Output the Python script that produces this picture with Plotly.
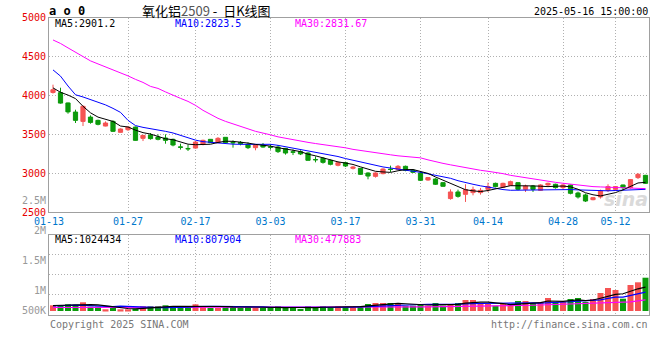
import plotly.graph_objects as go

# ---------------- data ----------------
dates = ["01-13","01-14","01-15","01-16","01-17","01-20","01-21","01-22","01-23","01-24","01-27",
         "02-05","02-06","02-07","02-10","02-11","02-12","02-13","02-14","02-17","02-18","02-19","02-20","02-21",
         "02-24","02-25","02-26","02-27","02-28",
         "03-03","03-04","03-05","03-06","03-07","03-10","03-11","03-12","03-13","03-14","03-17","03-18","03-19",
         "03-20","03-21","03-24","03-25","03-26","03-27","03-28","03-31",
         "04-01","04-02","04-03","04-07","04-08","04-09","04-10","04-11","04-14","04-15","04-16","04-17","04-18",
         "04-21","04-22","04-23","04-24","04-25","04-28","04-29","04-30",
         "05-06","05-07","05-08","05-09","05-12","05-13","05-14","05-15","05-16"]

tick_labels = ["01-27","02-17","03-03","03-17","03-31","04-14","04-28","05-12"]
first_label = "01-13"

open_ = [4040,4037,3905,3788,3668,3723,3681,3608,3668,3527,3561,3595,3450,3492,3466,3454,3437,3340,3320,3325,
         3373,3437,3394,3463,3397,3398,3373,3330,3364,3340,3338,3321,3276,3279,3261,3178,3193,3167,3103,3137,
         3064,3064,3004,2961,2996,3053,3051,3090,3039,3004,2914,2927,2880,2675,2760,2730,2752,2752,2794,2871,
         2820,2846,2880,2794,2837,2781,2850,2859,2816,2850,2747,2722,2661,2696,2781,2794,2850,2816,2945,2974]
high = [4140,4101,3910,3818,3874,3745,3690,3668,3681,3578,3600,3600,3490,3518,3501,3501,3446,3381,3369,3415,
        3433,3440,3466,3466,3424,3415,3398,3373,3390,3373,3364,3321,3308,3296,3270,3218,3209,3176,3150,3150,
        3095,3068,3013,3013,3064,3099,3107,3099,3055,3017,2950,2936,2884,2794,2790,2859,2829,2812,2880,2880,
        2880,2906,2884,2854,2850,2859,2880,2867,2859,2854,2764,2739,2696,2790,2859,2837,2854,2927,3004,2980]
low = [4025,3896,3767,3647,3608,3638,3617,3604,3531,3522,3545,3420,3415,3433,3424,3381,3347,3305,3287,3317,
       3360,3390,3390,3390,3330,3360,3312,3296,3330,3305,3261,3240,3235,3235,3167,3141,3124,3103,3090,3081,
       3050,2980,2923,2945,2987,3017,3047,3026,3004,2901,2905,2850,2829,2661,2687,2632,2717,2726,2760,2820,
       2810,2837,2781,2760,2760,2773,2829,2803,2790,2730,2675,2632,2653,2675,2760,2773,2781,2803,2927,2865]
close = [4075,3903,3790,3681,3861,3655,3630,3647,3540,3570,3595,3424,3488,3446,3437,3424,3364,3335,3315,3402,
         3424,3394,3450,3394,3392,3381,3330,3364,3338,3336,3279,3261,3272,3249,3167,3174,3141,3116,3137,3094,
         3080,2987,2965,3004,3055,3049,3090,3039,3013,2910,2945,2859,2833,2760,2704,2790,2790,2781,2829,2829,
         2871,2893,2794,2837,2794,2850,2871,2816,2850,2743,2696,2644,2687,2773,2829,2829,2816,2919,2987,2871]

ma5 = [4099,4042,4006,3961,3862,3778,3723,3695,3667,3608,3596,3555,3523,3505,3478,3444,3432,3401,3375,3368,
       3368,3374,3397,3413,3411,3402,3389,3372,3361,3350,3329,3316,3297,3279,3246,3225,3201,3169,3147,3132,
       3114,3083,3053,3026,3018,3012,3033,3047,3049,3020,2999,2953,2912,2861,2820,2789,2775,2765,2779,2804,
       2820,2841,2843,2845,2838,2834,2829,2834,2836,2826,2795,2750,2724,2709,2726,2752,2787,2833,2876,2884]
ma10 = [4330,4250,4123,4010,3982,3951,3916,3880,3835,3784,3681,3614,3591,3576,3562,3540,3519,3486,3455,3427,
        3407,3398,3392,3383,3375,3373,3373,3373,3373,3373,3360,3342,3321,3303,3285,3269,3252,3238,3216,3190,
        3167,3144,3121,3100,3082,3068,3055,3044,3032,3013,2994,2974,2955,2936,2905,2877,2859,2839,2820,2805,
        2791,2782,2784,2787,2789,2792,2794,2793,2792,2791,2787,2782,2778,2774,2775,2779,2783,2787,2792,2794]
ma30 = [4715,4670,4613,4561,4503,4446,4407,4371,4330,4298,4253,4208,4169,4118,4092,4047,4002,3964,3925,3874,
        3810,3758,3707,3668,3639,3610,3572,3540,3520,3495,3469,3450,3427,3414,3398,3383,3370,3360,3347,3328,
        3308,3292,3279,3263,3253,3238,3225,3215,3206,3199,3173,3148,3128,3109,3090,3068,3051,3039,3026,3013,
        2996,2974,2958,2942,2927,2913,2900,2884,2872,2859,2846,2833,2829,2825,2820,2816,2814,2810,2807,2803]

volume = [245000,245000,288000,271000,374000,185000,185000,73000,129000,73000,
          73000,99000,202000,202000,202000,245000,159000,202000,202000,288000,
          215000,129000,129000,202000,202000,129000,202000,129000,129000,129000,
          202000,129000,159000,86000,202000,159000,202000,159000,202000,185000,
          185000,215000,301000,344000,344000,344000,301000,228000,228000,301000,
          228000,344000,228000,301000,344000,473000,473000,301000,301000,228000,
          301000,228000,430000,430000,344000,387000,559000,387000,387000,516000,
          559000,387000,516000,774000,989000,903000,529000,1118000,1234000,1432000]
vma5 = [236000,250000,255000,250000,285000,273000,261000,218000,189000,129000,
        107000,89000,115000,130000,156000,190000,202000,202000,202000,219000,
        213000,207000,193000,193000,175000,158000,173000,173000,158000,144000,
        158000,144000,150000,141000,156000,147000,162000,162000,185000,181000,
        187000,189000,218000,246000,278000,310000,327000,312000,289000,280000,
        257000,266000,266000,280000,289000,338000,364000,378000,378000,355000,
        321000,272000,298000,323000,347000,364000,430000,421000,413000,447000,
        482000,447000,473000,550000,645000,714000,742000,863000,955000,1024434]
vma10 = [215000,230000,250000,255000,240000,225000,205000,190000,185000,207000,
         190000,175000,166000,160000,142000,148000,146000,159000,166000,187000,
         202000,205000,197000,197000,197000,186000,190000,183000,175000,160000,
         158000,158000,161000,150000,150000,153000,153000,156000,163000,169000,
         167000,175000,190000,215000,230000,248000,258000,265000,268000,279000,
         283000,296000,289000,285000,285000,298000,315000,322000,329000,322000,
         329000,318000,338000,351000,351000,342000,351000,360000,368000,397000,
         423000,439000,447000,482000,546000,598000,595000,668000,753000,807904]
vma30 = [150000,150000,152000,152000,150000,150000,148000,146000,145000,145000,
         145000,144000,144000,144000,145000,145000,146000,146000,147000,148000,
         148000,148000,147000,147000,147000,146000,146000,146000,146000,146000,
         146000,146000,146000,146000,146000,146000,147000,147000,148000,148000,
         149000,150000,152000,155000,158000,162000,165000,168000,172000,175000,
         178000,181000,184000,188000,192000,198000,204000,208000,212000,216000,
         220000,225000,232000,240000,248000,258000,268000,278000,288000,296000,
         305000,312000,320000,328000,336000,345000,358000,392000,435000,477883]

price_ticks = [2500, 3000, 3500, 4000, 4500, 5000]
vol_labels = ["2.5M", "2M", "1.5M", "1M", "500K"]

legend_price = ["MA5:2901.2", "MA10:2823.5", "MA30:2831.67"]
legend_vol = ["MA5:1024434", "MA10:807904", "MA30:477883"]
title_text = '氧化铝<span style="color:#555555">2509</span> -  日K线图'
stamp = "2025-05-16 15:00:00"

for arr in (open_, high, low, close, ma5, ma10, ma30, volume, vma5, vma10, vma30):
    assert len(arr) == len(dates), len(arr)

# ---------------- styling ----------------
W, H = 660, 360
RED = "#f55353"
GREEN = "#0b9a0b"
MONO = "DejaVu Sans Mono"
GRID = "#b0b0b0"
BORDER = "#a0a0a0"

def px(x):
    return x / W

def py(y):
    return 1 - y / H

X0, X1 = 49, 649
MAIN_TOP, MAIN_BOT = 17.8, 212.2
VOL_TOP, VOL_BOT = 234.5, 315.0
VOL_PER_PX = 43000.0
VOL_BASE_PX = 311.0

n = len(dates)
xr = [-0.533, n - 0.533]

vol_lo = -(VOL_BOT - VOL_BASE_PX) * VOL_PER_PX
vol_hi = (VOL_BASE_PX - VOL_TOP) * VOL_PER_PX
vol_grid = [vol_lo + f * (vol_hi - vol_lo) for f in (0.25, 0.5, 0.75)]

vol_colors = [RED if c >= o else GREEN for o, c in zip(open_, close)]

fig = go.Figure()

fig.add_trace(go.Bar(x=dates, y=volume, marker=dict(color=vol_colors, line=dict(width=0)),
                     width=0.8, xaxis="x2", yaxis="y2", hoverinfo="skip"))
for arr, col in ((vma30, "#ff00ff"), (vma10, "#0000ff"), (vma5, "#000000")):
    fig.add_trace(go.Scatter(x=dates, y=arr, mode="lines", line=dict(color=col, width=1.2),
                             xaxis="x2", yaxis="y2", hoverinfo="skip"))

for arr, col in ((ma30, "#ff00ff"), (ma10, "#0000ff"), (ma5, "#000000")):
    fig.add_trace(go.Scatter(x=dates, y=arr, mode="lines", line=dict(color=col, width=1),
                             xaxis="x", yaxis="y", hoverinfo="skip"))

fig.add_trace(go.Candlestick(
    x=dates, open=open_, high=high, low=low, close=close,
    increasing=dict(line=dict(color=RED, width=1), fillcolor=RED),
    decreasing=dict(line=dict(color=GREEN, width=1), fillcolor=GREEN),
    whiskerwidth=0, xaxis="x", yaxis="y", hoverinfo="skip"))

axis_common = dict(showline=True, mirror=True, linecolor=BORDER, linewidth=1,
                   showgrid=True, gridcolor=GRID, griddash="1px,2px", gridwidth=1,
                   zeroline=False, ticks="", automargin=False)

ann = []
def text(x, y, s, color="#000", size=10, family=MONO, xanchor="left", bold=False):
    if bold:
        s = "<b>" + s + "</b>"
    ann.append(dict(x=px(x), y=py(y), xref="paper", yref="paper", text=s, showarrow=False,
                    xanchor=xanchor, yanchor="middle", borderpad=0,
                    font=dict(family=family, size=size, color=color)))

text(48, 11, "a o 0", size=12, bold=True)
text(206, 10.5, title_text, size=13, family="Noto Sans CJK SC", xanchor="center")
text(649, 11.5, stamp, size=10, xanchor="right")
for s, xx, col in zip(legend_price, (54, 174, 294), ("#000000", "#0000ff", "#ff00ff")):
    text(xx, 24, s, color=col)
for s, xx, col in zip(legend_vol, (54, 174, 294), ("#000000", "#0000ff", "#ff00ff")):
    text(xx, 239, s, color=col)
for s, yy in zip(vol_labels, (200.5, 230.5, 260, 290.5, 310.5)):
    text(46.5, yy, s, color="#999999", xanchor="right")
text(X0, 221, first_label, color="#0077cc", xanchor="center")
text(49, 324, "Copyright 2025 SINA.COM", color="#777777")
text(649, 324, "http://finance.sina.com.cn", color="#777777", xanchor="right")
ann.append(dict(x=px(650), y=py(199), xref="paper", yref="paper", text="<i><b>sina</b></i>",
                showarrow=False, xanchor="right", yanchor="middle", opacity=0.55,
                font=dict(family="DejaVu Sans", size=19, color="#bdbdbd")))

fig.update_layout(
    width=W, height=H, margin=dict(l=0, r=0, t=0, b=0, autoexpand=False),
    paper_bgcolor="white", plot_bgcolor="white", showlegend=False,
    boxgap=0.2, bargap=0.2,
    xaxis=dict(domain=[px(X0), px(X1)], anchor="y", type="category", range=xr,
               rangeslider=dict(visible=False), tickvals=tick_labels, ticktext=tick_labels,
               tickfont=dict(family=MONO, size=10, color="#0077cc"), **axis_common),
    yaxis=dict(domain=[py(MAIN_BOT), py(MAIN_TOP)], anchor="x", range=[price_ticks[0], price_ticks[-1]],
               tickvals=price_ticks, tickfont=dict(family=MONO, size=10, color="#e60000"),
               **axis_common),
    xaxis2=dict(domain=[px(X0), px(X1)], anchor="y2", type="category", matches="x", range=xr,
                tickvals=tick_labels, showticklabels=False, **axis_common),
    yaxis2=dict(domain=[py(VOL_BOT), py(VOL_TOP)], anchor="x2", range=[vol_lo, vol_hi],
                tickvals=vol_grid, showticklabels=False, **axis_common),
    annotations=ann,
)

fig.write_html("out.html", config={"displayModeBar": False},
               post_script="document.documentElement.style.margin='0px';"
                           "document.body.style.margin='0px';document.body.style.overflow='hidden';")
